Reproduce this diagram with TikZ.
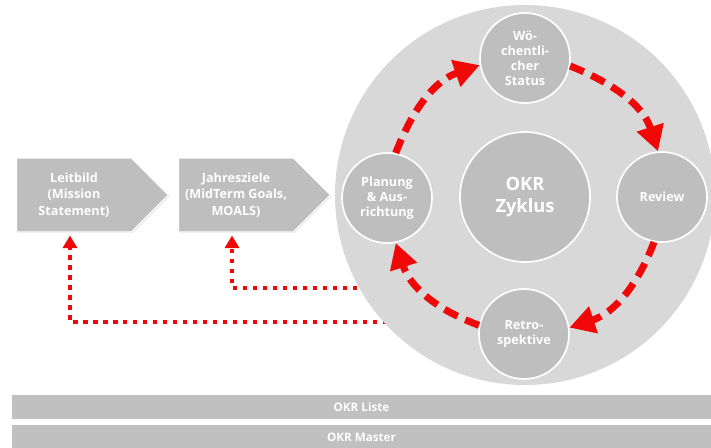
\documentclass[tikz,border=0pt]{standalone}
\usepackage{fontspec}
\setmainfont{Open Sans}
\usetikzlibrary{shapes.symbols, arrows.meta, shadows}

\definecolor{okrred}{RGB}{240,8,8}
\definecolor{ringgray}{RGB}{216,216,216}
\definecolor{stepgray}{RGB}{190,190,190}
\definecolor{bargray}{RGB}{192,192,192}

\begin{document}
\begin{tikzpicture}[
	goal/.style={signal, signal to=east, fill=stepgray, draw=white, line width=1pt,
		minimum width=3.8cm, minimum height=1.85cm, text=white, align=center,
		font=\bfseries\fontsize{9}{11.7}\selectfont,
		drop shadow={opacity=0.3, shadow xshift=0.7pt, shadow yshift=-0.7pt}},
	phase/.style={circle, fill=stepgray, draw=white, line width=1.2pt, inner sep=0pt,
		minimum size=2.25cm, text=white, align=center,
		font=\bfseries\fontsize{9}{10.7}\selectfont},
	hub/.style={phase, minimum size=3.25cm, font=\bfseries\fontsize{13}{15.5}\selectfont},
	bar/.style={fill=bargray, minimum width=17.475cm, minimum height=0.6cm, inner sep=0pt,
		text=white, font=\bfseries\fontsize{8.3}{10}\selectfont},
	cyclearrow/.style={okrred, line width=5pt, dash pattern=on 10.5pt off 6pt,
		-{Triangle[length=18pt, width=19pt]}},
	feedback/.style={okrred, line width=3.2pt, dash pattern=on 3.2pt off 3.9pt,
		-{Triangle[length=9pt, width=10pt]}, shorten >=2pt}
]

\path[use as bounding box, clip] (0, 0) rectangle (17.775, 11.2);

% Ziele
\node [goal] (leitbild) at (1.85, 6.325) {Leitbild\\(Mission\\Statement)};
\node [goal] (jahresziele) at (5.9, 6.325) {Jahresziele\\(MidTerm Goals,\\MOALS)};

% Rueckkopplung
\coordinate (fbleit) at (9.675, 3.15);
\coordinate (fbjahr) at (9.675, 4.00);
\draw [feedback] (fbleit) -| ([xshift=-0.1cm]leitbild.south);
\draw [feedback] (fbjahr) -| ([xshift=-0.1cm]jahresziele.south);

% Zyklus
\fill [ringgray] (13.125, 6.325) circle (4.75);

\node [hub] (zyklus) at (13.125, 6.275) {OKR\\Zyklus};
\node [phase] (woche) at (13.125, 9.75) {Wö-\\chentli-\\cher\\Status};
\node [phase] (planung) at (9.675, 6.25) {Planung\\\& Aus-\\richtung};
\node [phase] (review) at (16.55, 6.275) {Review};
\node [phase] (retro) at (13.1, 2.85) {Retro-\\spektive};

\draw [cyclearrow] (planung.79) to[out=69, in=199] (woche.189);
\draw [cyclearrow] (woche.350) to[out=-22, in=108] (review.95);
\draw [cyclearrow] (review.260) to[out=-111, in=18] (retro.8);
\draw [cyclearrow] (retro.169) to[out=160, in=288] (planung.281);

% Listen
\node [bar] (liste) at (9.0375, 1.025) {OKR Liste};
\node [bar] (master) at (9.0375, 0.275) {OKR Master};

\end{tikzpicture}
\end{document}
